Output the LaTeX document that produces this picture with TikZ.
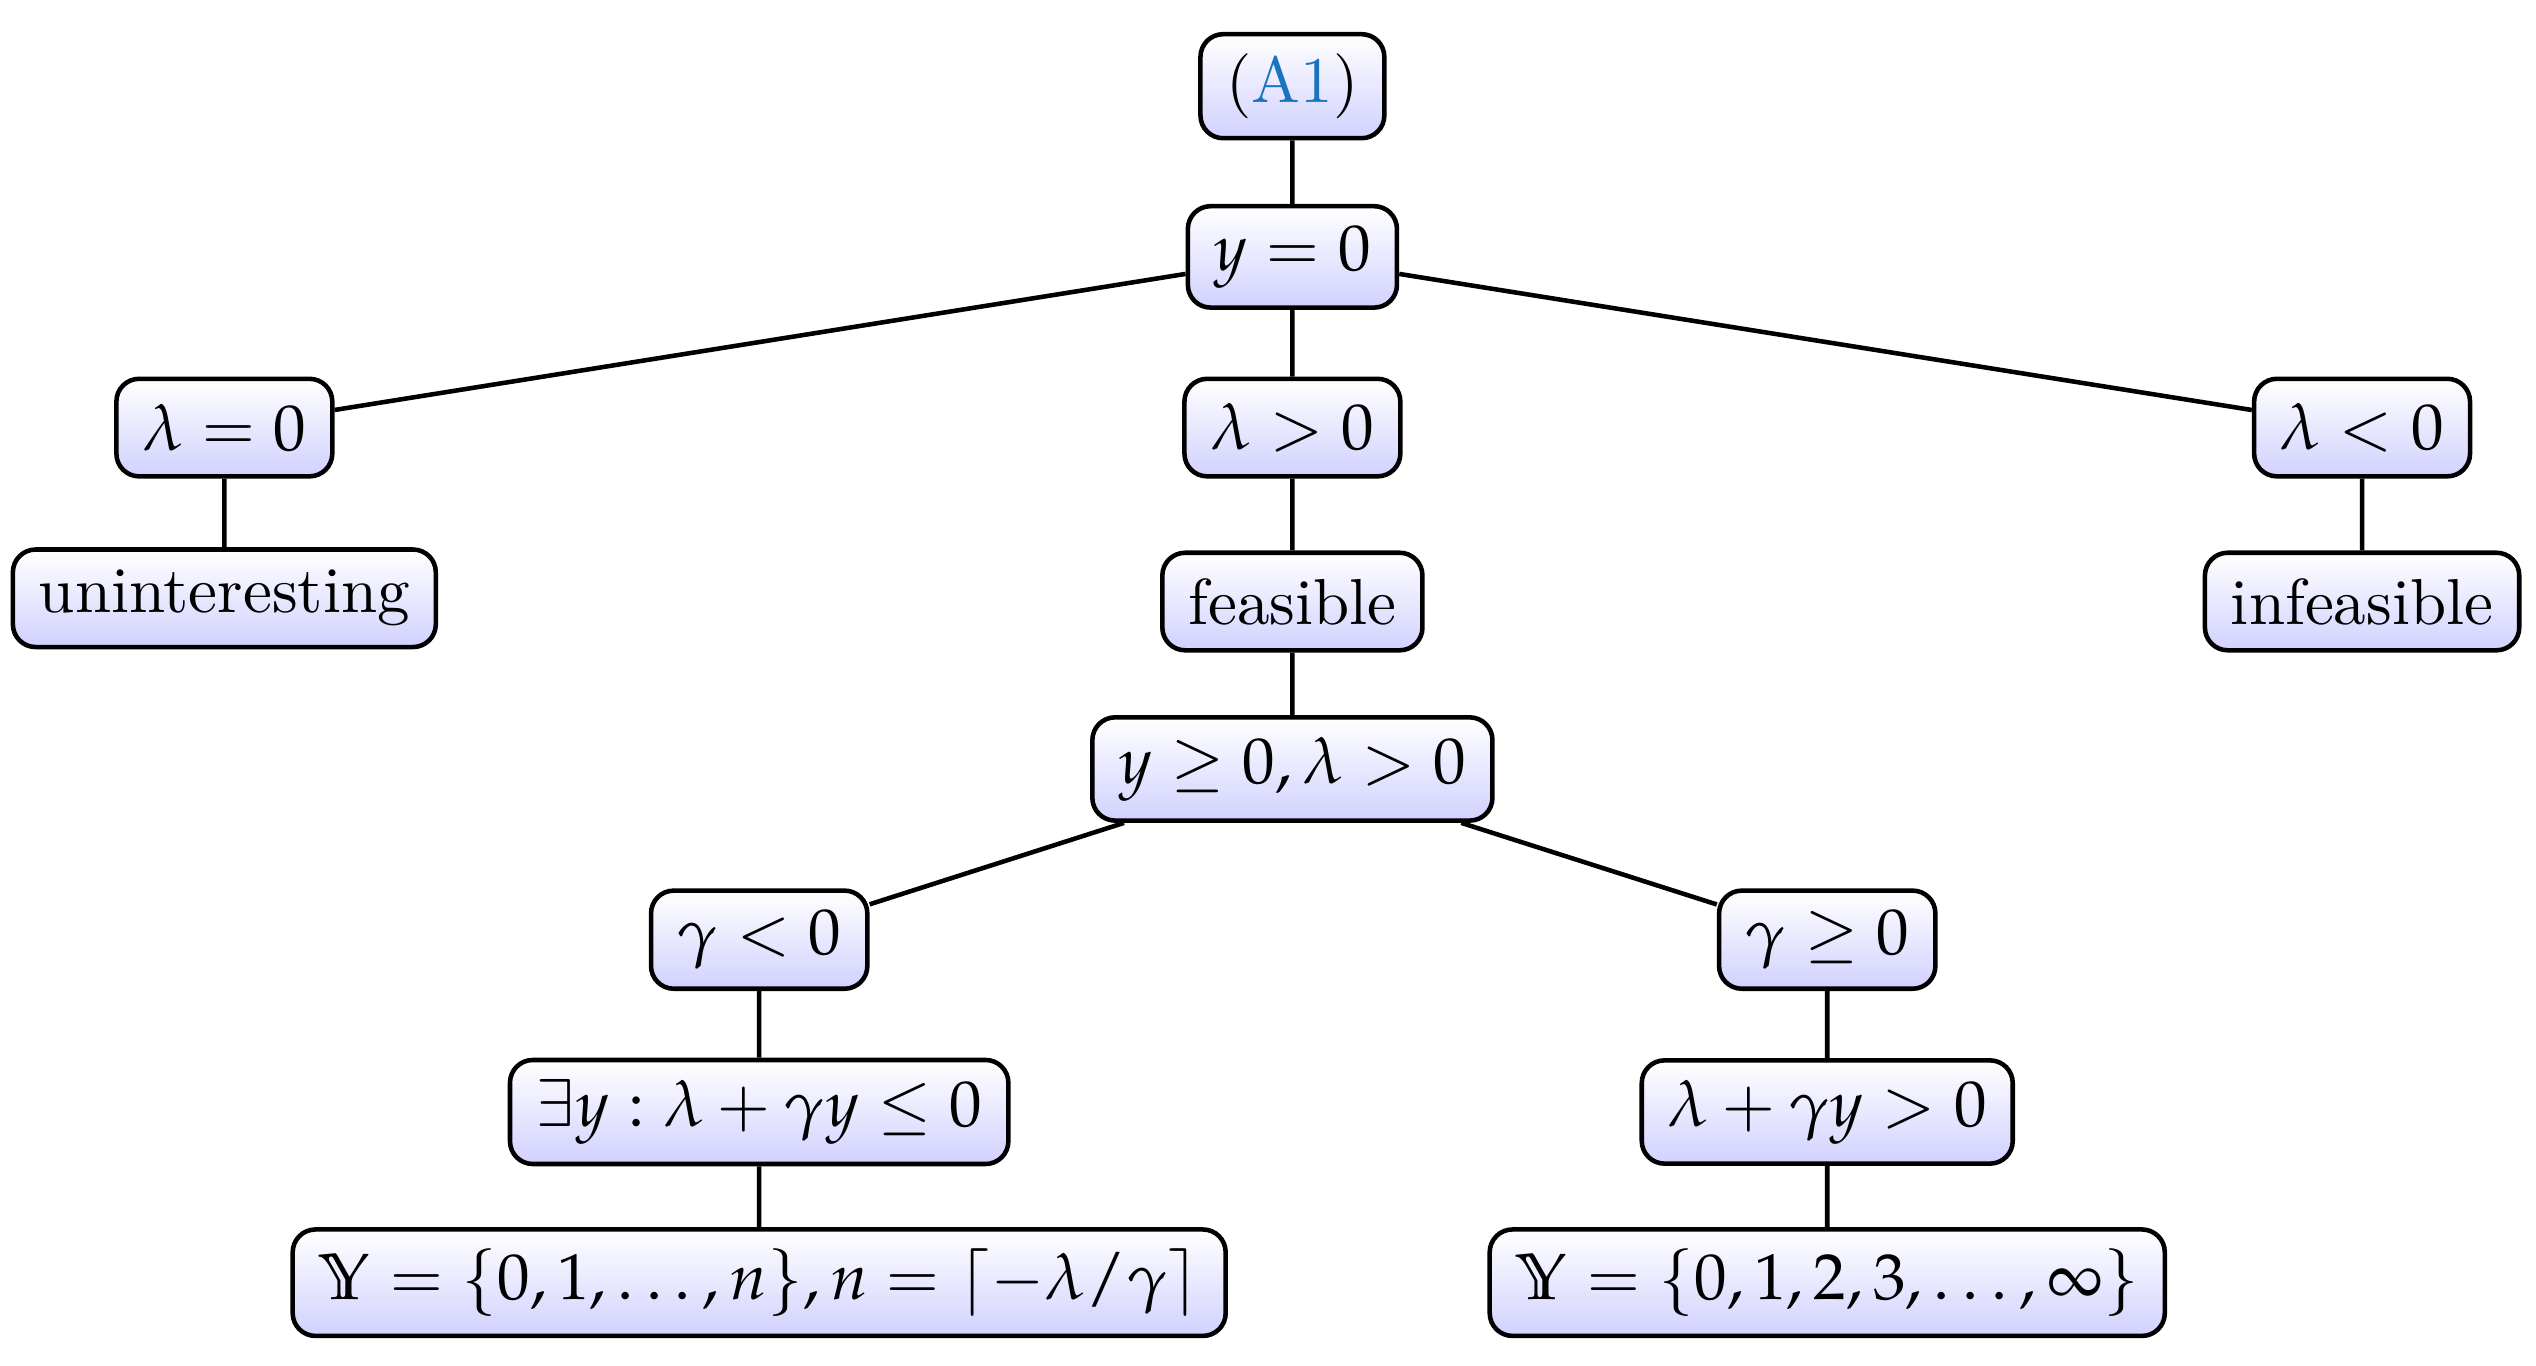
\documentclass[tikz,border=0pt]{standalone}
\usepackage{amssymb}
\usepackage{mathpazo}
\definecolor{refblue}{rgb}{0.1,0.45,0.75}
\begin{document}
\begin{tikzpicture}[x=0.25pt,y=-0.25pt,
  box/.style={draw=black,line width=0.7pt,rounded corners=3.5pt,top color=white,bottom color=blue!18,inner xsep=4pt,inner ysep=3pt,minimum height=15pt}]
\useasboundingbox (0,0) rectangle (1560,840);
\node[box] (a1) at (795,53) {(\textcolor{refblue}{A1})};
\node[box] (y0) at (795,158) {$y=0$};
\node[box] (l0) at (138,263) {$\lambda=0$};
\node[box] (lp) at (795,263) {$\lambda>0$};
\node[box] (ln) at (1453,263) {$\lambda<0$};
\node[box] (un) at (138,368) {uninteresting};
\node[box] (fe) at (795,370) {feasible};
\node[box] (inf) at (1453,370) {infeasible};
\node[box] (yl) at (795,473) {$y\geq 0,\lambda>0$};
\node[box] (gn) at (467,578) {$\gamma<0$};
\node[box] (gp) at (1124,578) {$\gamma\geq 0$};
\node[box] (ex) at (467,684) {$\exists y:\lambda+\gamma y\leq 0$};
\node[box] (lg) at (1124,684) {$\lambda+\gamma y>0$};
\node[box] (yn) at (467,789) {$\mathbb{Y}=\{0,1,\ldots,n\},n=\lceil-\lambda/\gamma\rceil$};
\node[box] (yi) at (1124,789) {$\mathbb{Y}=\{0,1,2,3,\ldots,\infty\}$};
\draw[line width=0.7pt] (a1)--(y0) (y0)--(l0) (y0)--(lp) (y0)--(ln)
  (l0)--(un) (lp)--(fe) (ln)--(inf) (fe)--(yl) (yl)--(gn) (yl)--(gp)
  (gn)--(ex) (gp)--(lg) (ex)--(yn) (lg)--(yi);
\end{tikzpicture}
\end{document}
